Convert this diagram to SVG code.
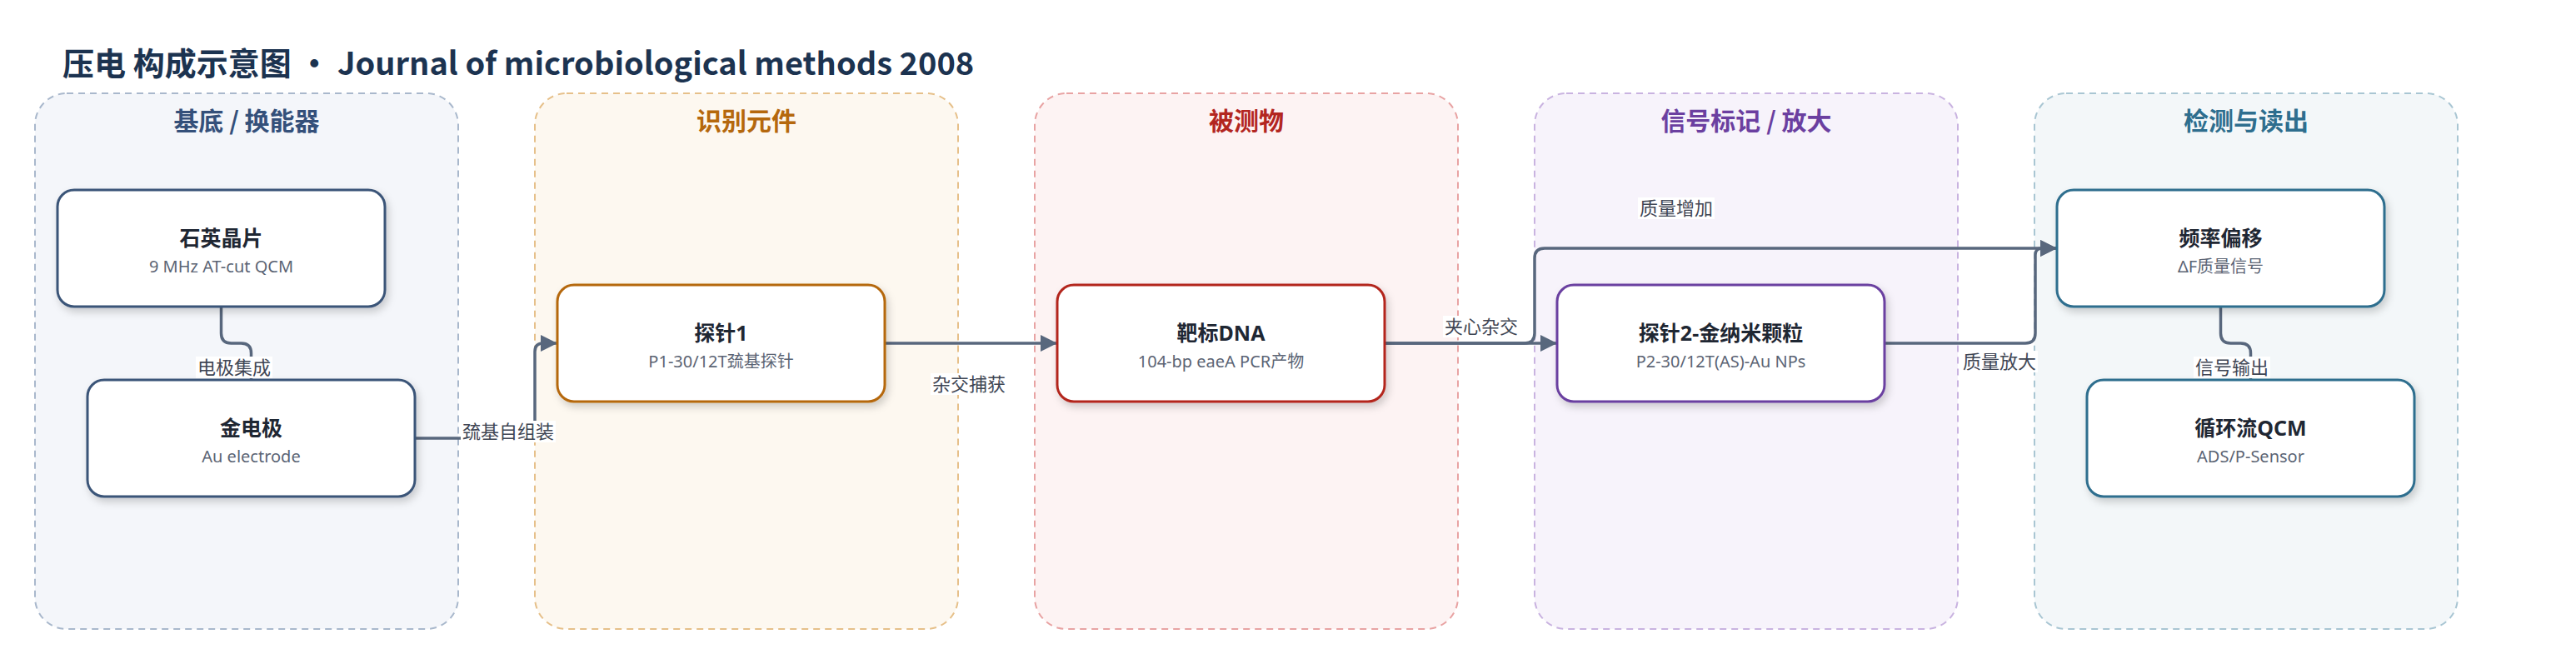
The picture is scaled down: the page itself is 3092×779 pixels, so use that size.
<svg xmlns="http://www.w3.org/2000/svg" width="3092" height="779" viewBox="0 0 3092 779">
<defs>
<style>
.title{font-family:"Noto Sans CJK SC","Noto Sans",sans-serif;font-weight:700;font-size:38px;fill:#1c3350}
.gt{font-family:"Noto Sans CJK SC","Noto Sans",sans-serif;font-weight:700;font-size:30px;text-anchor:middle}
.grp{stroke-width:2;stroke-dasharray:8 6}
.node{fill:#fff;stroke-width:3}
.nt{font-family:"Noto Sans","Noto Sans CJK SC",sans-serif;font-weight:700;font-size:25px;fill:#1f2733;text-anchor:middle}
.ns{font-family:"Noto Sans","Noto Sans CJK SC",sans-serif;font-size:20px;fill:#5b6474;text-anchor:middle}
.edge{fill:none;stroke:#58677d;stroke-width:3.5}
.lbg{fill:#fff}
.lt{font-family:"Noto Sans CJK SC","Noto Sans",sans-serif;font-size:22px;fill:#3f4654;text-anchor:middle}
</style>
<filter id="sh" x="-10%" y="-20%" width="125%" height="150%">
<feDropShadow dx="3" dy="5" stdDeviation="5" flood-color="#000" flood-opacity="0.18"/>
</filter>
<marker id="arr" markerUnits="userSpaceOnUse" markerWidth="20" markerHeight="20" refX="20" refY="10" orient="auto">
<path d="M0,0 L20,10 L0,20 z" fill="#58677d"/>
</marker>
</defs>
<rect width="3092" height="779" fill="#fff"/>
<text class="title" x="75" y="90">压电 构成示意图 · Journal of microbiological methods 2008</text>

<g id="groups">
<g id="g-substrate"><rect class="grp" x="42" y="112" width="508" height="643" rx="38" fill="#f4f6fa" stroke="#a9b8cc"/><text class="gt" x="296" y="156" fill="#34507a">基底 / 换能器</text></g>
<g id="g-recog"><rect class="grp" x="642" y="112" width="508" height="643" rx="38" fill="#fdf8f0" stroke="#e6c08a"/><text class="gt" x="896" y="156" fill="#b5680d">识别元件</text></g>
<g id="g-analyte"><rect class="grp" x="1242" y="112" width="508" height="643" rx="38" fill="#fdf3f3" stroke="#e8a3a3"/><text class="gt" x="1496" y="156" fill="#b3261f">被测物</text></g>
<g id="g-signal"><rect class="grp" x="1842" y="112" width="508" height="643" rx="38" fill="#f7f3fb" stroke="#c9b3e0"/><text class="gt" x="2096" y="156" fill="#6b3fa0">信号标记 / 放大</text></g>
<g id="g-detect"><rect class="grp" x="2442" y="112" width="508" height="643" rx="38" fill="#f3f7f9" stroke="#a9c6d3"/><text class="gt" x="2696" y="156" fill="#2e6e8e">检测与读出</text></g>
</g>

<g id="connectors">
<path class="edge" d="M265.5,368 V400 Q265.5,412 277.5,412 H289.5 Q301.5,412 301.5,424 V456" marker-end="url(#arr)"/>
<path class="edge" d="M498,526 H630 Q642,526 642,514 V422 Q642,412 652,412 H669" marker-end="url(#arr)"/>
<path class="edge" d="M1062,412 H1269" marker-end="url(#arr)"/>
<path class="edge" d="M1663,412 H1830 Q1842,412 1842,400 V310 Q1842,298 1854,298 H2469" marker-end="url(#arr)"/>
<path class="edge" d="M2263,412 H2431 Q2443,412 2443,400 V306 Q2443,298 2451,298 H2469" marker-end="url(#arr)"/>
<path class="edge" d="M1663,412 H1869" marker-end="url(#arr)"/>
<path class="edge" d="M2665.5,368 V400 Q2665.5,412 2677.5,412 H2689.5 Q2701.5,412 2701.5,424 V456" marker-end="url(#arr)"/>
<g id="edge-labels">
<rect class="lbg" x="235" y="428" width="92" height="26"/><text class="lt" x="281" y="449">电极集成</text>
<rect class="lbg" x="553" y="505" width="114" height="26"/><text class="lt" x="610" y="526">巯基自组装</text>
<rect class="lbg" x="1117" y="448" width="92" height="26"/><text class="lt" x="1163" y="469">杂交捕获</text>
<rect class="lbg" x="1732" y="379" width="92" height="26"/><text class="lt" x="1778" y="400">夹心杂交</text>
<rect class="lbg" x="1966" y="237" width="92" height="26"/><text class="lt" x="2012" y="258">质量增加</text>
<rect class="lbg" x="2354" y="421" width="92" height="26"/><text class="lt" x="2400" y="442">质量放大</text>
<rect class="lbg" x="2633" y="428" width="92" height="26"/><text class="lt" x="2679" y="449">信号输出</text>
</g>
</g>

<g id="n-quartz"><rect class="node" x="69" y="228" width="393" height="140" rx="20" stroke="#3b5478" filter="url(#sh)"/><text class="nt" x="265.5" y="295">石英晶片</text><text class="ns" x="265.5" y="327">9 MHz AT-cut QCM</text></g>
<g id="n-au"><rect class="node" x="105" y="456" width="393" height="140" rx="20" stroke="#3b5478" filter="url(#sh)"/><text class="nt" x="301.5" y="523">金电极</text><text class="ns" x="301.5" y="555">Au electrode</text></g>
<g id="n-probe1"><rect class="node" x="669" y="342" width="393" height="140" rx="20" stroke="#b5680d" filter="url(#sh)"/><text class="nt" x="865.5" y="409">探针1</text><text class="ns" x="865.5" y="441">P1-30/12T巯基探针</text></g>
<g id="n-target"><rect class="node" x="1269" y="342" width="393" height="140" rx="20" stroke="#b3261f" filter="url(#sh)"/><text class="nt" x="1465.5" y="409">靶标DNA</text><text class="ns" x="1465.5" y="441">104-bp eaeA PCR产物</text></g>
<g id="n-probe2"><rect class="node" x="1869" y="342" width="393" height="140" rx="20" stroke="#6b3fa0" filter="url(#sh)"/><text class="nt" x="2065.5" y="409">探针2-金纳米颗粒</text><text class="ns" x="2065.5" y="441">P2-30/12T(AS)-Au NPs</text></g>
<g id="n-freq"><rect class="node" x="2469" y="228" width="393" height="140" rx="20" stroke="#2e6e8e" filter="url(#sh)"/><text class="nt" x="2665.5" y="295">频率偏移</text><text class="ns" x="2665.5" y="327">ΔF质量信号</text></g>
<g id="n-qcm"><rect class="node" x="2505" y="456" width="393" height="140" rx="20" stroke="#2e6e8e" filter="url(#sh)"/><text class="nt" x="2701.5" y="523">循环流QCM</text><text class="ns" x="2701.5" y="555">ADS/P-Sensor</text></g>
</svg>
